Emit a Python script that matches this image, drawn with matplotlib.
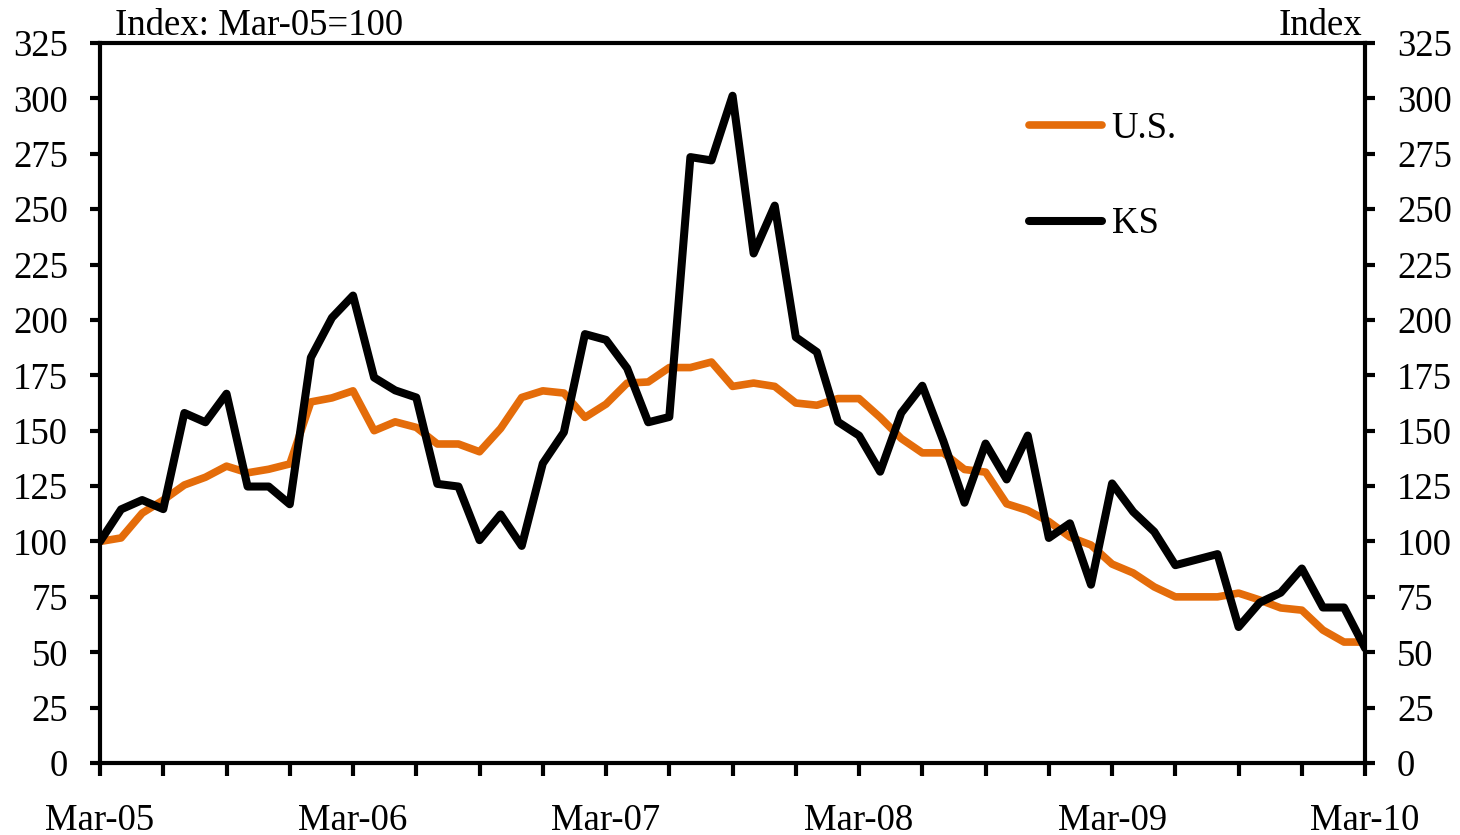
import numpy as np
import matplotlib.pyplot as plt
from matplotlib.ticker import MultipleLocator

# monthly, Mar-05 .. Mar-10, index Mar-05 = 100
us = [100, 101.6, 112.8, 118.7, 125.5, 129, 134, 131, 132.6, 135,
      163, 164.8, 168, 150, 154, 151.5, 144, 144, 140.5, 151,
      165, 168, 167, 156, 162, 171.5, 172, 178.5, 178.5, 181,
      170, 171.5, 170, 162.5, 161.5, 164.5, 164.5, 156, 146.5, 140,
      140, 132.5, 131.3, 117, 114, 109, 102, 98.4, 89.8, 85.8,
      79.5, 75, 75, 75, 76.7, 73.6, 70, 69, 60, 54.6,
      54.6]
ks = [100, 114.5, 118.7, 114.6, 158, 153.8, 166.7, 124.8, 124.8, 116.8,
      183, 201, 211, 174, 168.2, 165, 126, 124.8, 100.6, 112.2,
      98, 135.2, 149.3, 193.6, 191, 178.2, 153.8, 156.2, 273.5, 272,
      301.2, 230, 251.6, 192.2, 185.5, 154, 147.8, 131.5, 158, 170.3,
      145.3, 117.5, 144.2, 128, 147.8, 101.6, 108.2, 80.5, 126.2, 113.4,
      104.4, 89.3, 91.8, 94.3, 61.4, 72.4, 76.9, 87.8, 70.2, 70.2,
      51.8]
year_labels = ['Mar-05', 'Mar-06', 'Mar-07', 'Mar-08', 'Mar-09', 'Mar-10']

plt.rcParams['font.family'] = ['Liberation Serif', 'DejaVu Serif']
fs = 26.5

fig = plt.figure(figsize=(14.6, 8.35), dpi=100)
ax = fig.add_axes([0.0685, 0.0862, 0.8665, 0.8623])

x = np.arange(len(us))
ax.plot(x, us, color='#E46C0A', lw=5.5, label='U.S.', solid_capstyle='round')
ax.plot(x, ks, color='black', lw=5.8, label='KS', solid_capstyle='round')

ax.set_xlim(0, 60)
ax.set_ylim(0, 325)
ax.yaxis.set_major_locator(MultipleLocator(25))
ax.set_xticks(np.arange(0, 61, 12))
ax.set_xticklabels(year_labels)
ax.xaxis.set_minor_locator(MultipleLocator(3))

for s in ax.spines.values():
    s.set_linewidth(3)

ax.tick_params(axis='y', which='major', direction='out', length=7, width=3,
               labelsize=fs, pad=16, left=True, right=True,
               labelleft=True, labelright=True)
ax.tick_params(axis='x', which='both', direction='out', length=9, width=3,
               labelsize=fs, pad=20)

fig.text(0.079, 0.958, 'Index: Mar-05=100', fontsize=fs, ha='left', va='baseline')
fig.text(0.933, 0.958, 'Index', fontsize=fs, ha='right', va='baseline')

ax.legend(loc='upper left', bbox_to_anchor=(0.7225, 0.925), frameon=False,
          fontsize=fs, handlelength=2.0, handletextpad=0.25, labelspacing=1.65,
          borderaxespad=0)

fig.savefig('out.png', dpi=100)
